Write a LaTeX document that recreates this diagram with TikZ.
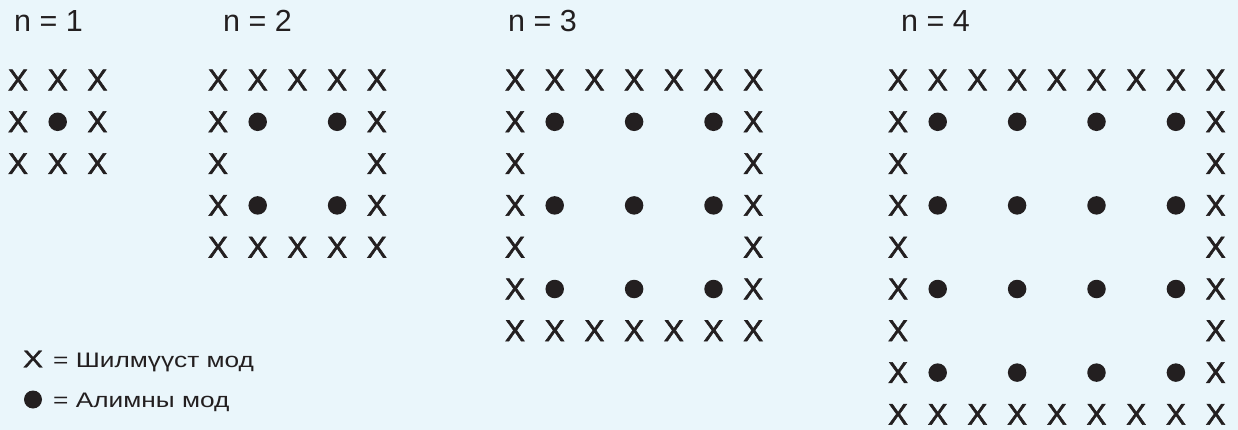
\documentclass[tikz,border=0pt]{standalone}
\usepackage{fontspec}
\setmainfont{Liberation Sans}
\newfontfamily\crossfont[FakeBold=1.8]{Liberation Sans}
\newfontfamily\legendfont[FakeStretch=1.25]{Liberation Sans}
\usetikzlibrary{positioning}
\definecolor{bgblue}{HTML}{EAF6FB}
\definecolor{ink}{HTML}{231F20}

\begin{document}
\begin{tikzpicture}[
      x=1pt, y=-1pt,
      cross/.style={font=\crossfont\fontsize{30}{30}\selectfont, text=ink, inner sep=0pt},
      apple/.style={circle, fill=ink, inner sep=0pt, minimum size=18.5pt},
      caption/.style={font=\fontsize{30.5}{30.5}\selectfont, text=ink, inner sep=0pt, anchor=base west},
      legend/.style={font=\legendfont\fontsize{21}{21}\selectfont, text=ink, inner sep=0pt, anchor=base west}
    ]
    \fill[bgblue] (0,0) rectangle (1238,430);
    \useasboundingbox (0,0) rectangle (1238,430);
    % captions
    \node[caption] (n1) at (14,32)  {n = 1};
    \node[caption] (n2) at (223,32) {n = 2};
    \node[caption] (n3) at (508,32) {n = 3};
    \node[caption] (n4) at (901,32) {n = 4};
    % grids: X on the border, dots on odd cells inside
    \foreach \n/\left in {1/18, 2/218, 3/515, 4/898}{
      \pgfmathtruncatemacro{\m}{2*\n}
      \foreach \i in {0,...,\m}{
        \foreach \j in {0,...,\m}{
          \pgfmathtruncatemacro{\edge}{(\i==0)||(\j==0)||(\i==\m)||(\j==\m)}
          \pgfmathtruncatemacro{\odd}{and(isodd(\i),isodd(\j))}
          \ifnum\edge=1
            \node[cross] (g\n-\i-\j) at (\left+39.7*\j, 80+41.8*\i) {X};
          \else\ifnum\odd=1
            \node[apple] (g\n-\i-\j) at (\left+39.7*\j, 80+41.8*\i) {};
          \fi\fi
        }
      }
    }
    % legend
    \node[cross, font=\legendfont\addfontfeatures{FakeBold=1.5}\fontsize{24}{24}\selectfont] (keyx) at (33,359) {X};
    \node[legend] (keyxtext) at (53,367) {= Шилмүүст мод};
    \node[apple, minimum size=18pt] (keydot) at (33,399.5) {};
    \node[legend] (keydottext) at (53,407) {= Алимны мод};
  \end{tikzpicture}
\end{document}
